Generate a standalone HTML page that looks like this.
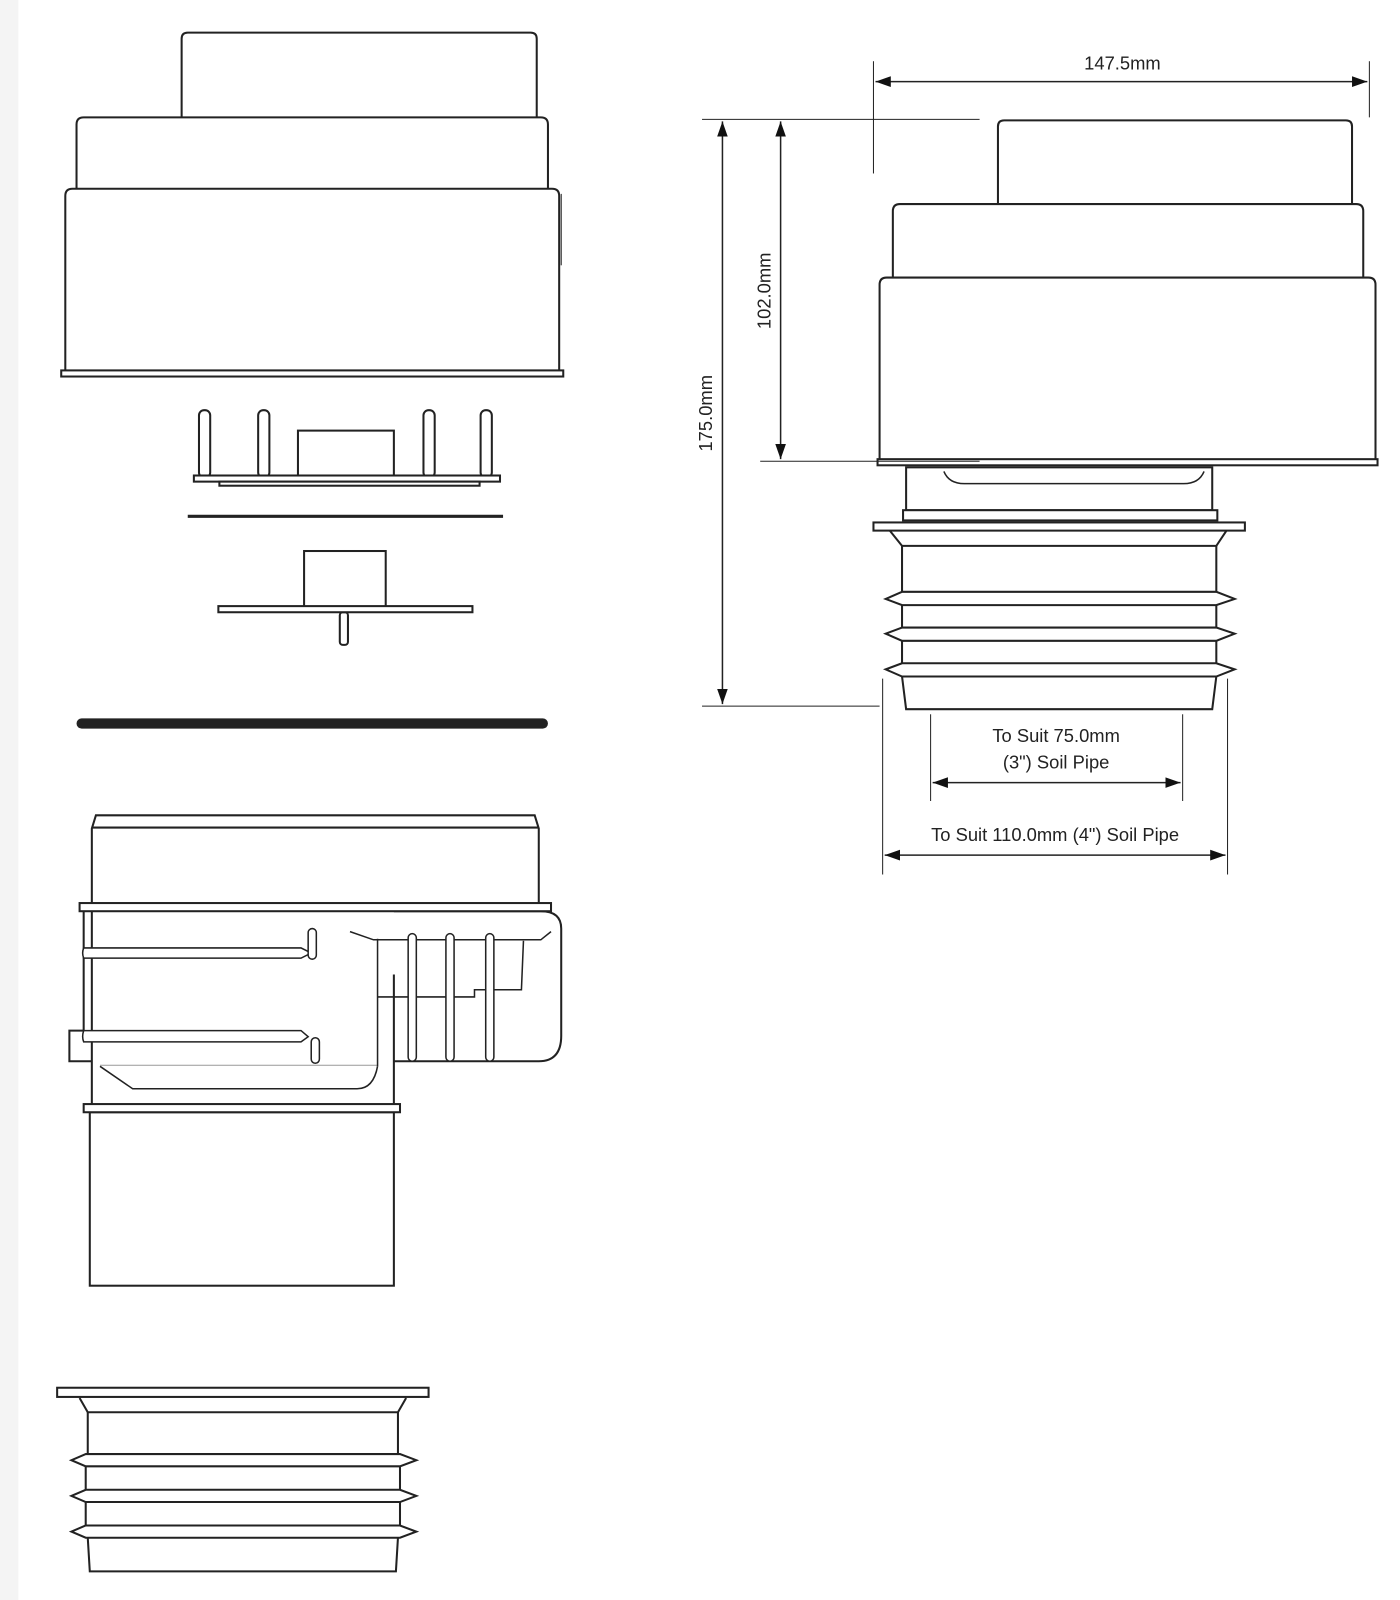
<!DOCTYPE html><html><head><style>body{margin:0;background:#fff}svg{display:block}text{font-family:"Liberation Sans",sans-serif;font-size:18px;fill:#222}</style></head><body>
<svg width="1400" height="1600" viewBox="0 0 1400 1600">
<defs><marker id="a" viewBox="0 0 10 10" refX="10" refY="5" markerWidth="10" markerHeight="10" orient="auto-start-reverse"><path d="M0,1.5L10,5L0,8.5z" fill="#111"/></marker></defs>
<g transform="scale(1.0204)">
<rect x="0" y="0" width="18" height="1600" fill="#f4f4f4"/>
<g fill="#fff" stroke="#222" stroke-width="2">
<path d="M178,115V38Q178,32 184,32H520Q526,32 526,38V115"/>
<path d="M75,185V122Q75,115 82,115H530Q537,115 537,122V185"/>
<path d="M64,363V192Q64,185 71,185H541Q548,185 548,192V363"/>
<rect x="60" y="363" width="492" height="6"/>
<line x1="550" y1="190" x2="550" y2="260" stroke-width="1"/>
<rect x="195" y="402" width="11" height="66" rx="5"/><rect x="253" y="402" width="11" height="66" rx="5"/><rect x="415" y="402" width="11" height="66" rx="5"/><rect x="471" y="402" width="11" height="66" rx="5"/>
<rect x="292" y="422" width="94" height="46"/>
<rect x="190" y="466" width="300" height="6"/>
<rect x="215" y="472" width="255" height="4"/>
<line x1="184" y1="506" x2="493" y2="506" stroke-width="3"/>
<rect x="298" y="540" width="80" height="55"/>
<rect x="333" y="600" width="8" height="32" rx="3"/>
<rect x="214" y="594" width="249" height="6"/>
<line x1="80" y1="709" x2="532" y2="709" stroke-width="10" stroke-linecap="round"/>
<path d="M90,885V812L94,799H524L528,812V885"/>
<line x1="90" y1="811" x2="528" y2="811"/>
<path d="M386,893H530Q550,893 550,910V1015Q550,1040 528,1040H386"/>
<path d="M82,893V1010H68V1040H90"/>
<rect x="78" y="885" width="462" height="8"/>
<line x1="90" y1="893" x2="90" y2="1082"/>
<line x1="386" y1="955" x2="386" y2="1082"/>
<rect x="88" y="1090" width="298" height="170"/>
<rect x="82" y="1082" width="310" height="8"/>
<path d="M82,929H295L305,934L295,939H82Q80,934 82,929Z" stroke-width="1.5"/>
<path d="M82,1010H295L302,1016L295,1021H82Q80,1016 82,1010Z" stroke-width="1.5"/>
<rect x="302" y="910" width="8" height="30" rx="4" stroke-width="1.5"/>
<rect x="305" y="1017" width="8" height="25" rx="4" stroke-width="1.5"/>
<path d="M98,1045L130,1067H350Q366,1067 370,1045" fill="none" stroke-width="1.5"/>
<line x1="98" y1="1044" x2="370" y2="1044" stroke="#999" stroke-width="1"/>
<line x1="370" y1="920" x2="370" y2="1045" stroke-width="1.5"/>
<path d="M343,913L366,921H530L540,913" fill="none" stroke-width="1.5"/>
<path d="M370,977H465V970H511L513,922" fill="none" stroke-width="1.5"/>
<rect x="400" y="915" width="8" height="125" rx="4" stroke-width="1.5"/>
<rect x="437" y="915" width="8" height="125" rx="4" stroke-width="1.5"/>
<rect x="476" y="915" width="8" height="125" rx="4" stroke-width="1.5"/>
<rect x="56" y="1360" width="364" height="9"/>
<path d="M78,1370L86,1384H390L398,1370" fill="none"/>
<path d="M86,1384V1425M390,1384V1425" fill="none"/>
<path d="M84,1425L70,1431L84,1437H392L408,1431L392,1425Z"/>
<path d="M84,1437V1460M392,1437V1460" fill="none"/>
<path d="M84,1460L70,1466L84,1472H392L408,1466L392,1460Z"/>
<path d="M84,1472V1495M392,1472V1495" fill="none"/>
<path d="M84,1495L70,1501L84,1507H392L408,1501L392,1495Z"/>
<path d="M86,1507L88,1540H388L390,1507" fill="none"/>
<path d="M978,200V124Q978,118 984,118H1319Q1325,118 1325,124V200"/>
<path d="M875,272V207Q875,200 882,200H1329Q1336,200 1336,207V272"/>
<path d="M862,450V279Q862,272 869,272H1341Q1348,272 1348,279V450"/>
<rect x="888" y="458" width="300" height="42"/>
<rect x="860" y="450" width="490" height="6"/>
<path d="M925,462Q930,474 945,474H1160Q1175,474 1180,462" fill="none" stroke-width="1.5"/>
<rect x="885" y="500" width="308" height="10"/>
<rect x="856" y="512" width="364" height="8"/>
<path d="M872,520L884,535H1192L1202,520" fill="none"/>
<path d="M884,535V580M1192,535V580" fill="none"/>
<path d="M884,580L868,587L884,593H1192L1210,587L1192,580Z"/>
<path d="M884,593V615M1192,593V615" fill="none"/>
<path d="M884,615L868,621L884,628H1192L1210,621L1192,615Z"/>
<path d="M884,628V650M1192,628V650" fill="none"/>
<path d="M884,650L868,656L884,663H1192L1210,656L1192,650Z"/>
<path d="M884,663L888,695H1188L1192,663" fill="none"/>
</g>
<g stroke="#222" stroke-width="1" fill="none">
<line x1="856" y1="60" x2="856" y2="170"/><line x1="1342" y1="60" x2="1342" y2="115"/>
<line x1="858" y1="80" x2="1340" y2="80" stroke-width="1.5" marker-start="url(#a)" marker-end="url(#a)"/>
<line x1="688" y1="117" x2="960" y2="117"/>
<line x1="688" y1="692" x2="862" y2="692"/>
<line x1="745" y1="452" x2="960" y2="452"/>
<line x1="708" y1="119" x2="708" y2="690" stroke-width="1.5" marker-start="url(#a)" marker-end="url(#a)"/>
<line x1="765" y1="119" x2="765" y2="450" stroke-width="1.5" marker-start="url(#a)" marker-end="url(#a)"/>
<line x1="912" y1="700" x2="912" y2="785"/><line x1="1159" y1="700" x2="1159" y2="785"/>
<line x1="914" y1="767" x2="1157" y2="767" stroke-width="1.5" marker-start="url(#a)" marker-end="url(#a)"/>
<line x1="865" y1="665" x2="865" y2="857"/><line x1="1203" y1="665" x2="1203" y2="857"/>
<line x1="867" y1="838" x2="1201" y2="838" stroke-width="1.5" marker-start="url(#a)" marker-end="url(#a)"/>
</g>
<text x="1100" y="68" text-anchor="middle">147.5mm</text>
<text transform="translate(698,405) rotate(-90)" text-anchor="middle">175.0mm</text>
<text transform="translate(755,285) rotate(-90)" text-anchor="middle">102.0mm</text>
<text x="1035" y="727" text-anchor="middle">To Suit 75.0mm</text>
<text x="1035" y="753" text-anchor="middle">(3") Soil Pipe</text>
<text x="1034" y="824" text-anchor="middle">To Suit 110.0mm (4") Soil Pipe</text>
</g>
</svg></body></html>
